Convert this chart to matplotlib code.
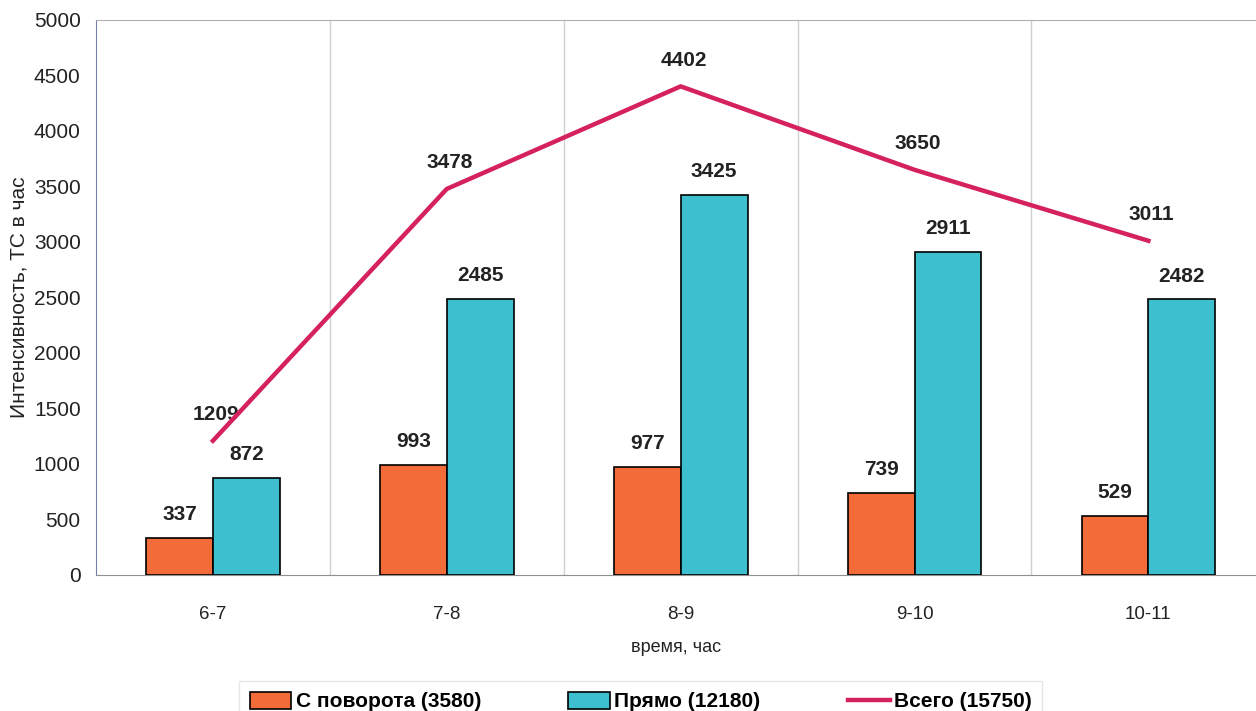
import matplotlib.pyplot as plt
import numpy as np

plt.rcParams['font.family'] = ['Liberation Sans', 'DejaVu Sans']

hours = ['6-7', '7-8', '8-9', '9-10', '10-11']
turning = [337, 993, 977, 739, 529]
straight = [872, 2485, 3425, 2911, 2482]
total = [1209, 3478, 4402, 3650, 3011]

fig = plt.figure(figsize=(12.56, 7.11), dpi=100)
ax = fig.add_axes([0.0764, 0.1913, 0.9236, 0.7806])

x = np.arange(len(hours))
w = 0.286
b1 = ax.bar(x - w / 2, turning, w, color='#f36b38', edgecolor='black', linewidth=1.2,
            label='С поворота (3580)', zorder=3)
b2 = ax.bar(x + w / 2, straight, w, color='#3dbfcf', edgecolor='black', linewidth=1.2,
            label='Прямо (12180)', zorder=3)
ln, = ax.plot(x, total, color='#d6225c', linewidth=3.2, label='Всего (15750)', zorder=4)

for xi, v in zip(x, turning):
    ax.annotate(str(v), (xi - w / 2, v), xytext=(0, 10), textcoords='offset points',
                ha='center', va='bottom', fontsize=15, fontweight='bold', color='#222222')
for xi, v in zip(x, straight):
    ax.annotate(str(v), (xi + w / 2, v), xytext=(0, 10), textcoords='offset points',
                ha='center', va='bottom', fontsize=15, fontweight='bold', color='#222222')
for xi, v in zip(x, total):
    ax.annotate(str(v), (xi, v), xytext=(2, 12), textcoords='offset points',
                ha='center', va='bottom', fontsize=15, fontweight='bold', color='#222222')

ax.set_xlim(-0.5, 4.46)
ax.set_ylim(0, 5000)
ax.set_yticks(range(0, 5001, 500))
ax.set_xticks(x)
ax.set_xticklabels(hours)
ax.tick_params(axis='both', colors='#222222', length=0)
ax.tick_params(axis='y', labelsize=15, pad=11)
ax.tick_params(axis='x', labelsize=13.5, pad=22)

# category separators
for b in np.arange(-0.5, 4.6, 1.0)[1:]:
    ax.axvline(b, color='#d0d0d0', linewidth=1, zorder=1)

ax.spines['top'].set_color('#b0b0b0')
ax.spines['left'].set_color('#7080a8')
ax.spines['bottom'].set_color('#909090')
ax.spines['right'].set_visible(False)

ax.set_xlabel('время, час', fontsize=13, color='#222222', labelpad=12)
ax.set_ylabel('Интенсивность, ТС в час', fontsize=15, color='#222222', labelpad=4)

leg = fig.legend(handles=[b1, b2, ln], loc='lower center', bbox_to_anchor=(0.51, -0.03),
                 ncol=3, frameon=True, fancybox=False, edgecolor='#e0e0e0',
                 prop={'size': 15, 'weight': 'bold'}, handlelength=2.0, handleheight=0.9,
                 columnspacing=4.2, handletextpad=0.2, borderpad=0.5)

fig.savefig('out.png', dpi=100)
